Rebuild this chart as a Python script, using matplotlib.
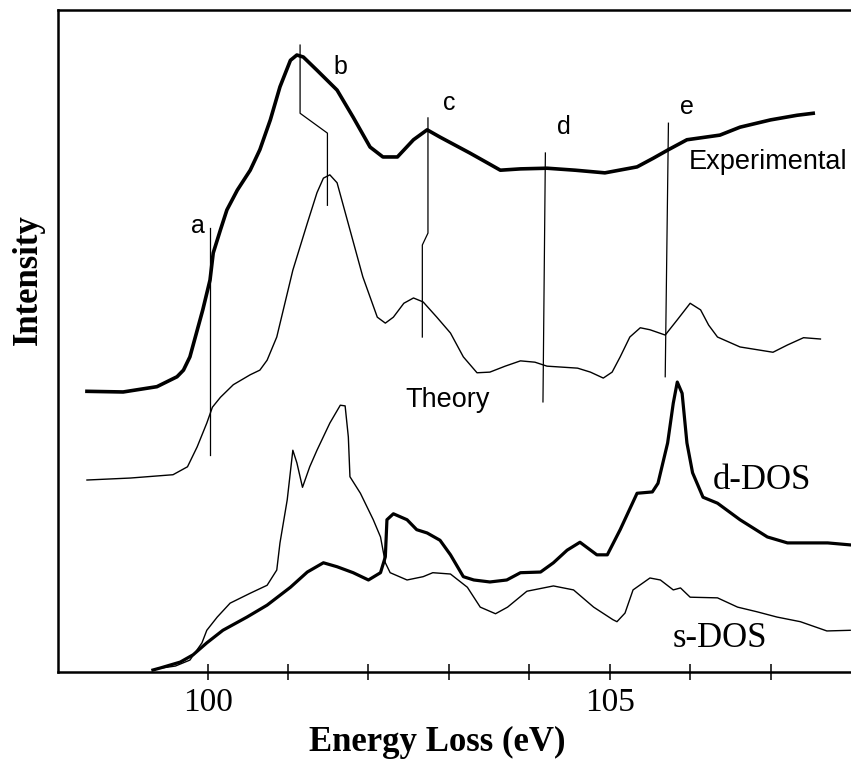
import matplotlib
matplotlib.use('Agg')
import matplotlib.pyplot as plt
import numpy as np

# Energy (eV) / intensity (arb. units, offset per curve)
exp_E = [98.50, 98.95, 99.37, 99.62, 99.70, 99.78, 99.94, 100.03, 100.07, 100.16,
         100.24, 100.37, 100.53, 100.65, 100.78, 100.90, 101.03, 101.11, 101.19, 101.36,
         101.61, 101.81, 102.02, 102.18, 102.36, 102.56, 102.73, 102.89, 103.26, 103.48,
         103.64, 103.89, 104.22, 104.57, 104.94, 105.34, 105.54, 105.73, 105.96, 106.37,
         106.62, 107.00, 107.33, 107.53]
exp_I = [42.4, 42.3, 43.1, 44.6, 45.6, 47.6, 54.7, 59.2, 63.3, 66.8,
         69.8, 72.8, 75.8, 78.9, 83.4, 88.4, 92.4, 93.2, 92.9, 90.9,
         87.9, 83.8, 79.3, 77.8, 77.8, 80.4, 81.9, 80.8, 78.4, 76.9,
         75.8, 76.0, 76.1, 75.8, 75.4, 76.3, 77.6, 78.9, 80.4, 81.1,
         82.3, 83.4, 84.1, 84.4]

theo_E = [98.50, 99.04, 99.57, 99.75, 99.87, 99.99, 100.06, 100.16, 100.32, 100.53,
          100.65, 100.74, 100.86, 101.06, 101.24, 101.36, 101.44, 101.52, 101.61, 101.77,
          101.93, 102.11, 102.21, 102.31, 102.44, 102.56, 102.68, 102.85, 103.02, 103.18,
          103.35, 103.51, 103.70, 103.89, 104.07, 104.22, 104.60, 104.76, 104.92, 105.03,
          105.13, 105.25, 105.38, 105.50, 105.69, 105.84, 106.00, 106.13, 106.23, 106.34,
          106.62, 107.03, 107.21, 107.41, 107.62]
theo_I = [29.0, 29.3, 29.8, 31.0, 34.0, 37.6, 40.0, 41.5, 43.4, 44.9,
          45.6, 47.1, 50.6, 60.7, 67.8, 72.4, 74.6, 75.1, 73.9, 66.8,
          59.7, 53.6, 52.7, 53.6, 55.7, 56.5, 55.9, 53.6, 51.2, 47.6,
          45.2, 45.3, 46.2, 47.0, 46.8, 46.2, 45.9, 45.3, 44.4, 45.3,
          47.6, 50.6, 52.0, 51.7, 50.9, 53.2, 55.7, 54.7, 52.4, 50.6,
          49.1, 48.3, 49.4, 50.5, 50.3]

ddos_E = [99.32, 99.41, 99.66, 99.82, 99.99, 100.19, 100.49, 100.74, 101.03, 101.24,
          101.44, 101.61, 101.81, 102.00, 102.15, 102.21, 102.23, 102.31, 102.48, 102.60,
          102.73, 102.89, 103.02, 103.18, 103.31, 103.51, 103.72, 103.89, 104.14, 104.30,
          104.47, 104.63, 104.84, 104.97, 105.13, 105.34, 105.53, 105.60, 105.72, 105.79,
          105.84, 105.90, 105.96, 106.03, 106.16, 106.34, 106.62, 106.96, 107.21, 107.71,
          107.99]
ddos_I = [0.3, 0.6, 1.5, 2.6, 4.4, 6.3, 8.3, 10.1, 12.8, 15.1,
          16.5, 15.9, 15.0, 13.9, 15.0, 17.4, 23.0, 23.9, 23.0, 21.5,
          21.0, 19.9, 17.7, 14.4, 13.9, 13.6, 13.9, 15.0, 15.1, 16.5,
          18.4, 19.6, 17.7, 17.7, 21.5, 27.0, 27.2, 28.5, 34.6, 40.6,
          43.8, 42.1, 34.6, 30.1, 26.4, 25.5, 23.0, 20.4, 19.5, 19.5,
          19.2]

sdos_E = [99.37, 99.60, 99.78, 99.93, 99.99, 100.12, 100.28, 100.53, 100.74, 100.86,
          100.90, 100.99, 101.06, 101.11, 101.18, 101.27, 101.36, 101.52, 101.65, 101.71,
          101.75, 101.77, 101.90, 102.06, 102.15, 102.21, 102.27, 102.48, 102.68, 102.80,
          103.02, 103.23, 103.39, 103.58, 103.73, 103.97, 104.30, 104.55, 104.80, 105.04,
          105.09, 105.19, 105.29, 105.50, 105.63, 105.79, 105.88, 106.00, 106.34, 106.59,
          106.83, 107.08, 107.37, 107.70, 107.99]
sdos_I = [0.5, 0.9, 1.8, 4.4, 6.3, 8.3, 10.4, 11.9, 13.1, 15.4,
          19.5, 26.0, 33.5, 31.6, 27.9, 31.0, 33.5, 37.6, 40.3, 40.2,
          35.5, 29.5, 27.0, 23.0, 20.4, 16.5, 15.0, 13.9, 14.4, 15.0,
          14.8, 12.8, 9.8, 8.8, 9.8, 12.2, 13.0, 12.4, 9.8, 7.9,
          7.6, 8.9, 12.4, 14.2, 13.9, 12.4, 12.7, 11.3, 11.2, 9.8,
          9.1, 8.3, 7.6, 6.2, 6.3]

# feature markers a-e: guide line vertices and label positions
marker_names = ['a', 'b', 'c', 'd', 'e']
marker_E = [[100.03, 100.03], [101.15, 101.15, 101.49, 101.49],
            [102.74, 102.74, 102.67, 102.67], [104.20, 104.17], [105.73, 105.69]]
marker_I = [[67.1, 32.8], [94.7, 84.4, 81.4, 70.5],
            [83.7, 66.3, 64.5, 50.6], [78.4, 40.8], [82.9, 44.6]]
marker_label_pos = [(99.88, 67.4), (101.65, 91.4), (103.00, 86.0), (104.43, 82.3), (105.96, 85.3)]

serif = 'Liberation Serif'
sans = 'Liberation Sans'

fig = plt.figure(figsize=(8.51, 7.59), dpi=100)
ax = fig.add_axes([58 / 851, 87 / 759, 793 / 851, 662 / 759])

ax.plot(exp_E, exp_I, color='black', lw=2.6, solid_joinstyle='round')
ax.plot(theo_E, theo_I, color='black', lw=1.0, solid_joinstyle='round')
ax.plot(ddos_E, ddos_I, color='black', lw=2.3, solid_joinstyle='round')
ax.plot(sdos_E, sdos_I, color='black', lw=1.0, solid_joinstyle='round')

for name, xs, ys, pos in zip(marker_names, marker_E, marker_I, marker_label_pos):
    ax.plot(xs, ys, color='black', lw=0.9)
    ax.text(pos[0], pos[1], name, fontsize=18, family=sans, ha='center', va='center')

ax.text(105.98, 77.0, 'Experimental', fontsize=19.5, family=sans, ha='left', va='center')
ax.text(102.46, 41.1, 'Theory', fontsize=19.5, family=sans, ha='left', va='center')
ax.text(106.28, 28.9, 'd-DOS', fontsize=25, family=serif, ha='left', va='center')
ax.text(105.78, 5.1, 's-DOS', fontsize=25, family=serif, ha='left', va='center')

ax.set_xlim(98.14, 108.0)
ax.set_ylim(0, 100)
ax.set_yticks([])
ax.set_xticks([100, 105])
ax.set_xticklabels(['100', '105'], fontsize=24, family=serif)
ax.set_xticks([101, 102, 103, 104, 106, 107], minor=True)
ax.tick_params(axis='x', which='both', direction='inout', length=12, width=1.1, pad=5)
ax.spines['right'].set_visible(False)
for s in ['left', 'top', 'bottom']:
    ax.spines[s].set_linewidth(1.8)

fig.text(437 / 851, 17 / 759, 'Energy Loss (eV)', fontsize=25, family=serif,
         fontweight='bold', ha='center', va='center')
fig.text(28 / 851, 479 / 759, 'Intensity', fontsize=25, family=serif,
         fontweight='bold', ha='center', va='center', rotation=90)

fig.savefig('out.png', dpi=100)
